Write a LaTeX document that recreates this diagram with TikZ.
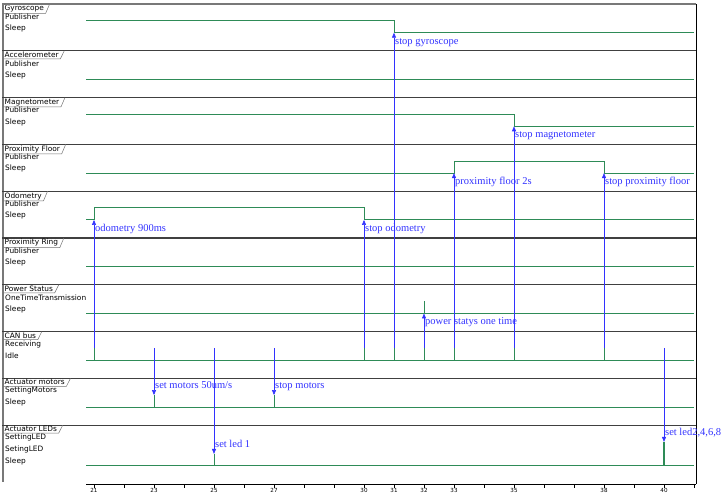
\documentclass[tikz,border=0pt]{standalone}
\usepackage{fontspec}
\setmainfont{Liberation Serif}
\setsansfont{DejaVu Sans}
\usetikzlibrary{arrows.meta, positioning, calc}
\definecolor{sigreen}{RGB}{46, 139, 87}
\definecolor{msgblue}{RGB}{50, 50, 255}
\definecolor{framegray}{RGB}{120, 120, 120}

\begin{document}
\begin{tikzpicture}[x=1pt, y=-1pt,
    sep/.style={draw=black!75, line width=1.1pt},
    rowtitle/.style={font=\sffamily\fontsize{7.4}{8}\selectfont, anchor=north west, inner xsep=1.5pt, inner ysep=1pt},
    tab/.style={draw=black!55, line width=0.5pt},
    state/.style={font=\sffamily\fontsize{7.4}{8}\selectfont, anchor=west, inner sep=0pt},
    sig/.style={draw=sigreen, line width=0.9pt},
    msg/.style={draw=msgblue, line width=0.6pt, -{Triangle[length=5pt, width=4pt]}},
    msglabel/.style={font=\fontsize{10.5}{12}\selectfont, text=msgblue, inner sep=0pt, anchor=base west},
    ticklabel/.style={font=\sffamily\fontsize{5.6}{6}\selectfont, anchor=north, inner sep=0pt}
  ]
  \useasboundingbox (0,0) rectangle (723,494);

  % frame
  \draw[framegray, line width=1.5pt] (3,4) -- (3,482);
  \draw[black, line width=0.8pt] (696,4) -- (696,484);

  % rows
  \foreach \row/\ytop/\title in {gyro/4/Gyroscope, acc/50.8/Accelerometer, mag/97.6/Magnetometer,
      pfloor/144.4/Proximity Floor, odo/191.2/Odometry, pring/238/Proximity Ring,
      power/284.8/Power Status, can/331.6/CAN bus, motors/378.4/Actuator motors, leds/425.2/Actuator LEDs} {
    \draw[sep] (2,\ytop) -- (696,\ytop);
    \node[rowtitle] (\row) at (3,\ytop) {\title};
    \draw[tab] (\row.south west) -- (\row.south east) -- ([xshift=4pt]\row.north east);
  }
  \draw[framegray, line width=1.5pt] (2,4) -- (696,4);

  % states
  \foreach \row/\ytop in {gyro/4, acc/50.8, mag/97.6, pfloor/144.4, odo/191.2, pring/238} {
    \node[state] (\row-pub) at (5,\ytop+12.5) {Publisher};
    \node[state] (\row-slp) at (5,\ytop+24.5) {Sleep};
  }
  \node[state] (power-ott) at (5,297.3) {OneTimeTransmission};
  \node[state] (power-slp) at (5,309.3) {Sleep};
  \node[state] (can-rcv) at (5,344.1) {Receiving};
  \node[state] (can-idle) at (5,356.1) {Idle};
  \node[state] (motors-set) at (5,390.9) {SettingMotors};
  \node[state] (motors-slp) at (5,402.9) {Sleep};
  \node[state] (leds-set) at (5,437.7) {SettingLED};
  \node[state] (leds-seting) at (5,449.7) {SetingLED};
  \node[state] (leds-slp) at (5,461.7) {Sleep};

  % signals
  \draw[sig] (86,20.7) -- (394,20.7) -- (394,32.7) -- (694,32.7);
  \draw[sig] (86,79.5) -- (694,79.5);
  \draw[sig] (86,114.3) -- (514,114.3) -- (514,126.3) -- (694,126.3);
  \draw[sig] (86,173.1) -- (454,173.1) -- (454,161.1) -- (604,161.1) -- (604,173.1) -- (694,173.1);
  \draw[sig] (86,219.9) -- (94,219.9) -- (94,207.9) -- (364,207.9) -- (364,219.9) -- (694,219.9);
  \draw[sig] (86,266.7) -- (694,266.7);
  \draw[sig] (86,313.5) -- (694,313.5);
  \draw[sig] (424,313.5) -- (424,301.5);
  \draw[sig] (86,360.3) -- (694,360.3);
  \foreach \x in {94,154,214,274,364,394,424,454,514,604,664}
    \draw[sig] (\x,360.3) -- (\x,348.3);
  \draw[sig] (86,407.1) -- (694,407.1);
  \draw[sig] (154,407.1) -- (154,395.1);
  \draw[sig] (274,407.1) -- (274,395.1);
  \draw[sig] (86,465.9) -- (694,465.9);
  \draw[sig] (214,465.9) -- (214,453.9);
  \draw[sig, line width=1.4pt] (664,465.9) -- (664,441.9);

  % messages from the CAN bus
  \foreach \x/\y/\txt in {94/219.9/odometry 900ms, 364/219.9/stop odometry, 394/32.7/stop gyroscope,
      424/313.5/power statys one time, 454/173.1/proximity floor 2s, 514/126.3/stop magnetometer,
      604/173.1/stop proximity floor} {
    \coordinate (can\x) at (\x,348.3);
    \coordinate (dst\x) at (\x,\y);
    \draw[msg] (can\x) -- (dst\x);
    \node[msglabel] (lbl\x) at ([xshift=1pt, yshift=-11.5pt]dst\x) {\txt};
  }
  \foreach \x/\y/\txt in {154/395.1/{set motors 50um/s}, 274/395.1/stop motors, 214/453.9/set led 1,
      664/441.9/{set led2,4,6,8}} {
    \coordinate (can\x) at (\x,348.3);
    \coordinate (dst\x) at (\x,\y);
    \draw[msg] (can\x) -- (dst\x);
    \node[msglabel] (lbl\x) at ([xshift=1pt, yshift=6.5pt]dst\x) {\txt};
  }

  % time axis
  \draw[black, line width=0.7pt] (86,484) -- (696,484);
  \foreach \t in {21,...,41}
    \draw[black, line width=0.6pt] ({94+30*(\t-21)},484) -- +(0,4);
  \foreach \t in {21,23,25,27,30,31,32,33,35,38,40}
    \node[ticklabel] (t\t) at ({94+30*(\t-21)},488.3) {\t};
\end{tikzpicture}
\end{document}
